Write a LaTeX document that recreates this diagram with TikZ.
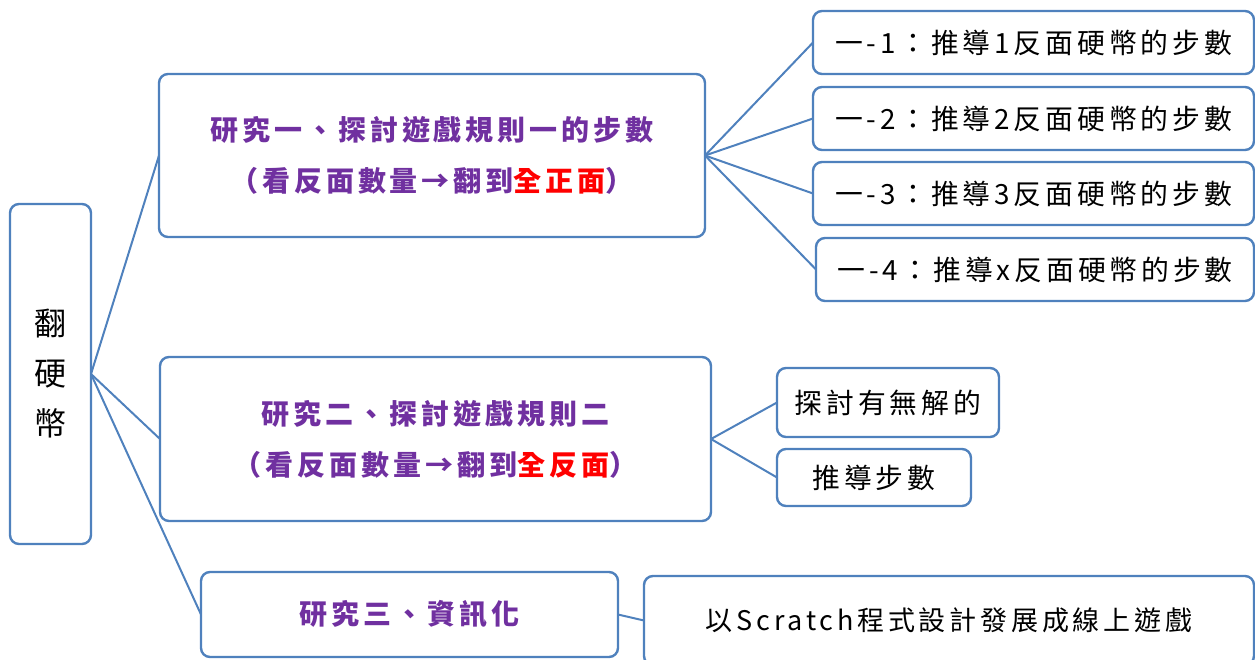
\documentclass[tikz,border=0pt]{standalone}
\usepackage{fontspec}
\newfontfamily\cjk[LetterSpace=14]{Noto Sans CJK TC}
\newfontfamily\cjkroot{Noto Sans CJK TC}
\definecolor{bl}{RGB}{79,129,189}
\definecolor{pu}{RGB}{112,48,160}
\definecolor{rd}{RGB}{255,0,0}
\tikzset{
  box/.style={draw=bl, line width=2.4pt, rounded corners=9pt, fill=white,
    inner sep=0pt, outer sep=0pt, align=center},
  conn/.style={draw=bl, line width=2pt},
  purp/.style={font=\cjk\bfseries\fontsize{28}{51}\selectfont, text=pu},
  blk/.style={font=\cjk\fontsize{27.8}{30}\selectfont, text=black},
}
\begin{document}
\begin{tikzpicture}[x=1pt,y=-1pt]
\useasboundingbox (0,0) rectangle (1255,659);
% root
\node[box, minimum width=81pt, minimum height=340pt,
  font=\cjkroot\fontsize{32}{50}\selectfont] (root) at (50.5,374) {翻\\硬\\幣};
% level 1
\node[box, purp, minimum width=546pt, minimum height=163pt] (r1) at (432,155.5)
  {研究一、探討遊戲規則一的步數\\（看反面數量→翻到{\color{rd}全正面}）};
\node[box, purp, minimum width=551pt, minimum height=164pt] (r2) at (435.5,439)
  {研究二、探討遊戲規則二\\（看反面數量→翻到{\color{rd}全反面}）};
\node[box, purp, minimum width=417pt, minimum height=85pt] (r3) at (409.5,614.5)
  {研究三、資訊化};
% leaves of r1
\node[box, blk, minimum width=441pt, minimum height=63pt] (l1) at (1033.5,42.5)
  {一-1：推導1反面硬幣的步數};
\node[box, blk, minimum width=441pt, minimum height=63pt] (l2) at (1033.5,118.5)
  {一-2：推導2反面硬幣的步數};
\node[box, blk, minimum width=441pt, minimum height=63pt] (l3) at (1033.5,193.5)
  {一-3：推導3反面硬幣的步數};
\node[box, blk, minimum width=438pt, minimum height=63pt] (l4) at (1035,269.5)
  {一-4：推導x反面硬幣的步數};
% leaves of r2
\node[box, blk, minimum width=222pt, minimum height=69pt] (s2a) at (888,402.5)
  {探討有無解的};
\node[box, blk, minimum width=194pt, minimum height=57pt] (s2b) at (874,477.5)
  {推導步數};
% leaf of r3
\node[box, blk, font=\cjk\fontsize{27}{30}\selectfont, minimum width=610pt, minimum height=89pt] (s3) at (949,620.5)
  {以Scratch程式設計發展成線上遊戲};
% connectors
\draw[conn] (root.east) -- (r1.west);
\draw[conn] (root.east) -- (r2.west);
\draw[conn] (root.east) -- (r3.west);
\draw[conn] (r1.east) -- (l1.west);
\draw[conn] (r1.east) -- (l2.west);
\draw[conn] (r1.east) -- (l3.west);
\draw[conn] (r1.east) -- (l4.west);
\draw[conn] (r2.east) -- (s2a.west);
\draw[conn] (r2.east) -- (s2b.west);
\draw[conn] (r3.east) -- (s3.west);
\end{tikzpicture}
\end{document}
